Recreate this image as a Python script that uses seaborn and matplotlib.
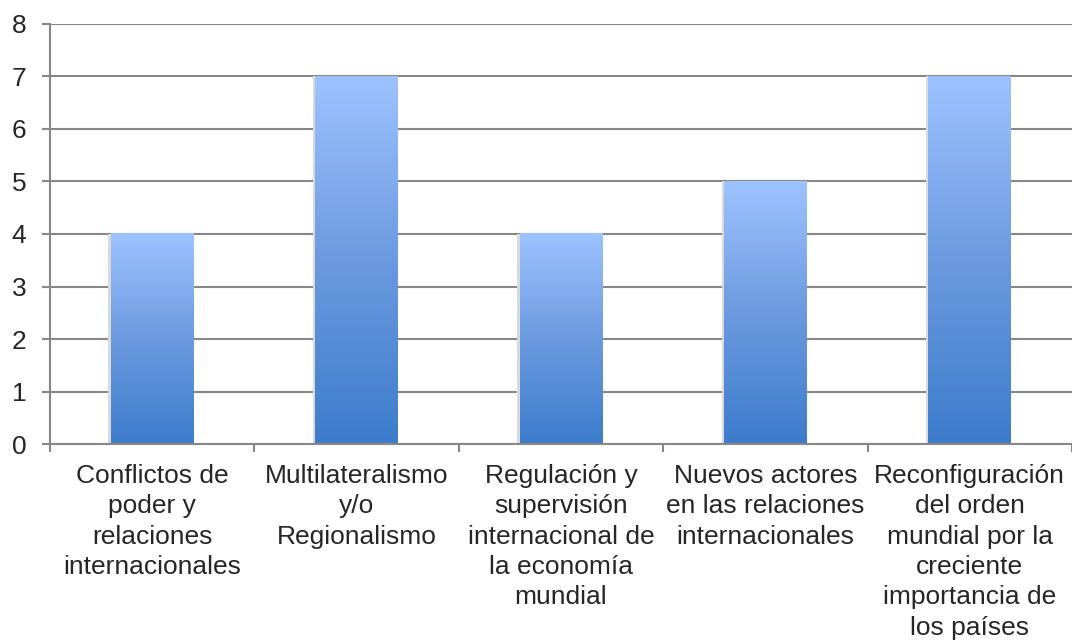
import numpy as np
import pandas as pd
import matplotlib
matplotlib.use('Agg')
import matplotlib.pyplot as plt
import seaborn as sns
from matplotlib.colors import LinearSegmentedColormap

# --- data ---
categories = [
    'Conflictos de\npoder y\nrelaciones\ninternacionales',
    'Multilateralismo\ny/o\nRegionalismo',
    'Regulación y\nsupervisión\ninternacional de\nla economía\nmundial',
    'Nuevos actores\nen las relaciones\ninternacionales',
    'Reconfiguración\ndel orden\nmundial por la\ncreciente\nimportancia de\nlos países',
]
values = [4, 7, 4, 5, 7]
y_ticks = [0, 1, 2, 3, 4, 5, 6, 7, 8]

df = pd.DataFrame({'tema': categories, 'valor': values})

sns.set_style('white')
plt.rcParams['font.family'] = ['Liberation Sans', 'DejaVu Sans']

fig = plt.figure(figsize=(10.72, 6.41), dpi=100)
ax = fig.add_axes([0.0466, 0.3073, 0.9534, 0.6553])

sns.barplot(data=df, x='tema', y='valor', ax=ax, color='#6a9be0', width=0.405,
            saturation=1, zorder=3)

# gradient fill for each bar, light on top, dark at bottom
cmap = LinearSegmentedColormap.from_list('grad', ['#3d7ccb', '#6b9ae0', '#9dc3ff'])
grad = np.linspace(0, 1, 256).reshape(-1, 1)
for p in ax.patches:
    x0, y0 = p.get_x(), p.get_y()
    w, h = p.get_width(), p.get_height()
    # soft shadow to the left/bottom
    ax.add_patch(plt.Rectangle((x0 - 0.012, y0 - 0.02), w, h + 0.02,
                               color='#d9d9d9', zorder=2, lw=0))
    ax.imshow(grad, cmap=cmap, origin='lower', aspect='auto',
              extent=[x0, x0 + w, y0, y0 + h], zorder=4)
    p.set_facecolor('none')
    p.set_edgecolor('none')

ax.set_xlim(-0.5, 4.5)
ax.set_ylim(0, 8)
ax.set_yticks(y_ticks)
ax.set_xlabel('')
ax.set_ylabel('')

ax.grid(axis='y', color='#878787', linewidth=1.5, zorder=1)
ax.set_axisbelow(True)
for s in ['top', 'right']:
    ax.spines[s].set_visible(False)
for s in ['left', 'bottom']:
    ax.spines[s].set_color('#878787')
    ax.spines[s].set_linewidth(1.5)
    ax.spines[s].set_zorder(5)

ax.tick_params(axis='y', which='major', left=True, length=6, width=1.5,
               color='#878787', labelsize=19, pad=11)
ax.tick_params(axis='x', which='major', bottom=False, labelsize=19, pad=11)
ax.set_xticks(np.arange(-0.5, 5.0, 1.0), minor=True)
ax.tick_params(axis='x', which='minor', bottom=True, length=6, width=1.5,
               color='#878787')
for lbl in ax.get_xticklabels():
    lbl.set_linespacing(1.33)
    lbl.set_ha('center')

fig.savefig('out.png', dpi=100)
